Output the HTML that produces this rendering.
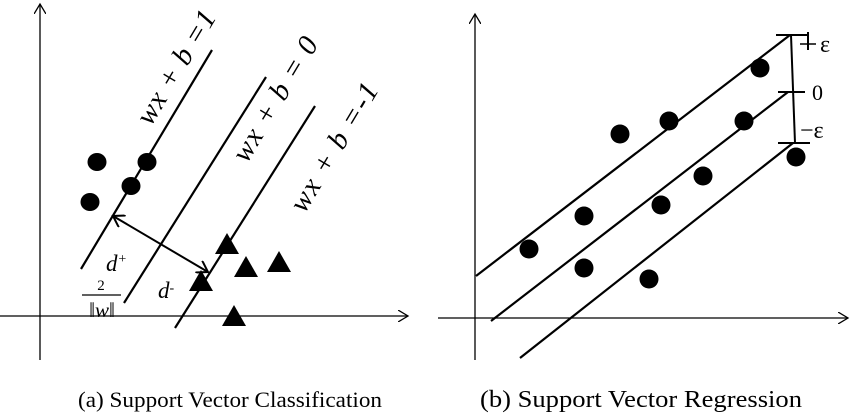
<!DOCTYPE html>
<html><head><meta charset="utf-8"><style>
body{margin:0;background:#fff;width:850px;height:414px;overflow:hidden}
svg{display:block}
text{font-family:"Liberation Serif",serif}
</style></head><body>
<svg id="s" width="850" height="414" viewBox="0 0 850 414">
<defs>
<marker id="ar" markerWidth="12" markerHeight="12" refX="10" refY="6" orient="auto" markerUnits="userSpaceOnUse"><path d="M0,0 L10,6 L0,12" fill="none" stroke="#000" stroke-width="1.3"/></marker>
<marker id="ar2" markerWidth="14" markerHeight="14" refX="11" refY="7" orient="auto-start-reverse" markerUnits="userSpaceOnUse"><path d="M0,0 L11,7 L0,14" fill="none" stroke="#000" stroke-width="2"/></marker>
</defs>
<g id="pa">
<line x1="40" y1="360" x2="40" y2="4" stroke="#000" stroke-width="1.3" marker-end="url(#ar)"/>
<line x1="0" y1="316" x2="408" y2="316" stroke="#000" stroke-width="1.3" marker-end="url(#ar)"/>
<line x1="113" y1="216" x2="208" y2="272" stroke="#000" stroke-width="2" marker-start="url(#ar2)" marker-end="url(#ar2)"/>
<text x="184" y="72" font-size="29" font-style="italic" text-anchor="middle" textLength="128" transform="rotate(-59 184 72)">wx + b =1</text>
<text x="283" y="104" font-size="29" font-style="italic" text-anchor="middle" textLength="140" transform="rotate(-59 283 104)">wx + b = 0</text>
<text x="342" y="152" font-size="29" font-style="italic" text-anchor="middle" textLength="145" transform="rotate(-59 342 152)">wx + b =-1</text>
<text x="106" y="271" font-size="23" font-style="italic">d<tspan font-size="14" dy="-8">+</tspan></text>
<text x="158" y="298" font-size="23" font-style="italic">d<tspan font-size="14" dy="-6">-</tspan></text>
<text x="101" y="290" font-size="15" text-anchor="middle">2</text>
<line x1="82" y1="295" x2="121" y2="295" stroke="#000" stroke-width="1.3"/>
<text x="102" y="317" font-size="21" font-style="italic" text-anchor="middle">‖w‖</text>
<text x="78" y="407" font-size="22" textLength="304" lengthAdjust="spacingAndGlyphs">(a) Support Vector Classification</text>
</g>
<g id="pb">
<line x1="475" y1="360" x2="475" y2="14" stroke="#000" stroke-width="1.3" marker-end="url(#ar)"/>
<line x1="438" y1="318" x2="848" y2="318" stroke="#000" stroke-width="1.3" marker-end="url(#ar)"/>
<line x1="791" y1="35" x2="795" y2="143" stroke="#000" stroke-width="2"/>
<line x1="776" y1="35" x2="808" y2="35" stroke="#000" stroke-width="2"/>
<line x1="808" y1="32" x2="808" y2="50" stroke="#000" stroke-width="2"/>
<line x1="800" y1="44" x2="816" y2="44" stroke="#000" stroke-width="1.5"/>
<line x1="778" y1="92" x2="805" y2="92" stroke="#000" stroke-width="2"/>
<line x1="778" y1="143" x2="810" y2="143" stroke="#000" stroke-width="2"/>
<text x="820" y="52" font-size="24">ε</text>
<text x="812" y="100" font-size="22" font-family="Liberation Sans">0</text>
<text x="800" y="138" font-size="24">−ε</text>
<text x="480" y="407" font-size="24" textLength="322" lengthAdjust="spacingAndGlyphs">(b) Support Vector Regression</text>
</g>
</svg>
<script>
// panel a data
const aLines=[[81,269,212,50],[124,303,266,77],[175,328,315,106]];
const aCircX=[97,147,131,90];
const aCircY=[162,162,186,202];
const aTriX=[227,246,279,201,234];
const aTriY=[244,267,262,281,316];
// panel b data
const bLines=[[476,276,790,35],[491,321,788,92],[520,358,793,143]];
const bPtX=[760,669,620,744,703,661,584,529,584,649,796];
const bPtY=[68,121,134,121,176,205,216,249,268,279,157];
const NS='http://www.w3.org/2000/svg';
function mk(t,p,a){const e=document.createElementNS(NS,t);for(const k in a)e.setAttribute(k,a[k]);p.appendChild(e);return e;}
const pa=document.getElementById('pa'),pb=document.getElementById('pb');
aLines.forEach((l,i)=>{const e=mk('line',pa,{x1:l[0],y1:l[1],x2:l[2],y2:l[3],stroke:'#000','stroke-width':2.2});

});
bLines.forEach((l,i)=>{const e=mk('line',pb,{x1:l[0],y1:l[1],x2:l[2],y2:l[3],stroke:'#000','stroke-width':2.2});

});
aCircX.forEach((x,i)=>{const e=mk('ellipse',pa,{cx:x,cy:aCircY[i],rx:9.5,ry:9,fill:'#000'});

});
aTriX.forEach((x,i)=>{const y=aTriY[i];const e=mk('polygon',pa,{points:`${x},${y-11} ${x-12},${y+10} ${x+12},${y+10}`,fill:'#000'});

});
bPtX.forEach((x,i)=>{const e=mk('ellipse',pb,{cx:x,cy:bPtY[i],rx:9.5,ry:9.5,fill:'#000'});

});
</script>
</body></html>
